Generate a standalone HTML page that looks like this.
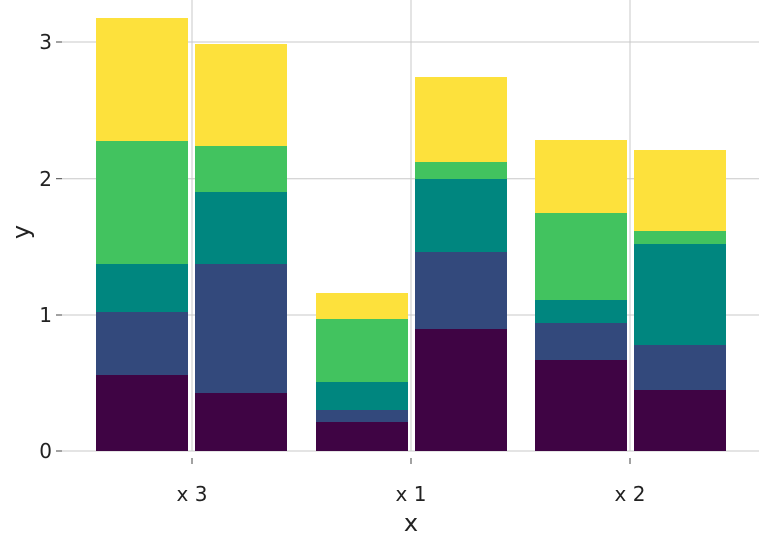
<!DOCTYPE html>
<html><head><meta charset="utf-8"><style>html,body{margin:0;padding:0;background:#fff}svg{display:block}</style></head>
<body>
<svg width="759" height="537" viewBox="0 0 759 537" xmlns="http://www.w3.org/2000/svg" font-family="'DejaVu Sans','Liberation Sans',sans-serif">
<g stroke="#c8c8c8" stroke-width="1">
<line x1="62" y1="42" x2="759" y2="42"/>
<line x1="62" y1="178.7" x2="759" y2="178.7"/>
<line x1="62" y1="315" x2="759" y2="315"/>
<line x1="62" y1="451" x2="759" y2="451"/>
<line x1="192" y1="0" x2="192" y2="451"/>
<line x1="411" y1="0" x2="411" y2="451"/>
<line x1="630" y1="0" x2="630" y2="451"/>
</g>
<g stroke="#444" stroke-width="1">
<line x1="56" y1="42" x2="62" y2="42"/><line x1="56" y1="178.7" x2="62" y2="178.7"/>
<line x1="56" y1="315" x2="62" y2="315"/><line x1="56" y1="451" x2="62" y2="451"/>
<line x1="192" y1="458" x2="192" y2="464"/><line x1="411" y1="458" x2="411" y2="464"/><line x1="630" y1="458" x2="630" y2="464"/>
</g>
<g>
<!-- bar1 -->
<rect x="96" y="18" width="92" height="123" fill="#fde13c"/>
<rect x="96" y="141" width="92" height="123" fill="#42c35f"/>
<rect x="96" y="264" width="92" height="48" fill="#00867f"/>
<rect x="96" y="312" width="92" height="63" fill="#33497c"/>
<rect x="96" y="375" width="92" height="76" fill="#3f0444"/>
<!-- bar2 -->
<rect x="195" y="44" width="92" height="102" fill="#fde13c"/>
<rect x="195" y="146" width="92" height="46" fill="#42c35f"/>
<rect x="195" y="192" width="92" height="72" fill="#00867f"/>
<rect x="195" y="264" width="92" height="129" fill="#33497c"/>
<rect x="195" y="393" width="92" height="58" fill="#3f0444"/>
<!-- bar3 -->
<rect x="316" y="293" width="92" height="26" fill="#fde13c"/>
<rect x="316" y="319" width="92" height="63" fill="#42c35f"/>
<rect x="316" y="382" width="92" height="28" fill="#00867f"/>
<rect x="316" y="410" width="92" height="12" fill="#33497c"/>
<rect x="316" y="422" width="92" height="29" fill="#3f0444"/>
<!-- bar4 -->
<rect x="415" y="77" width="92" height="85" fill="#fde13c"/>
<rect x="415" y="162" width="92" height="17" fill="#42c35f"/>
<rect x="415" y="179" width="92" height="73" fill="#00867f"/>
<rect x="415" y="252" width="92" height="77" fill="#33497c"/>
<rect x="415" y="329" width="92" height="122" fill="#3f0444"/>
<!-- bar5 -->
<rect x="535" y="140" width="92" height="73" fill="#fde13c"/>
<rect x="535" y="213" width="92" height="87" fill="#42c35f"/>
<rect x="535" y="300" width="92" height="23" fill="#00867f"/>
<rect x="535" y="323" width="92" height="37" fill="#33497c"/>
<rect x="535" y="360" width="92" height="91" fill="#3f0444"/>
<!-- bar6 -->
<rect x="634" y="150" width="92" height="81" fill="#fde13c"/>
<rect x="634" y="231" width="92" height="13" fill="#42c35f"/>
<rect x="634" y="244" width="92" height="101" fill="#00867f"/>
<rect x="634" y="345" width="92" height="45" fill="#33497c"/>
<rect x="634" y="390" width="92" height="61" fill="#3f0444"/>
</g>
<g font-size="20" fill="#222" text-anchor="end">
<text x="52" y="49">3</text><text x="52" y="186">2</text><text x="52" y="322">1</text><text x="52" y="458">0</text>
</g>
<g font-size="20" fill="#222" text-anchor="middle">
<text x="192" y="501">x 3</text><text x="411" y="501">x 1</text><text x="630" y="501">x 2</text>
<text x="411" y="531" font-size="24">x</text>
<text transform="translate(29,232) rotate(-90)" font-size="24">y</text>
</g>
</svg>
</body></html>
